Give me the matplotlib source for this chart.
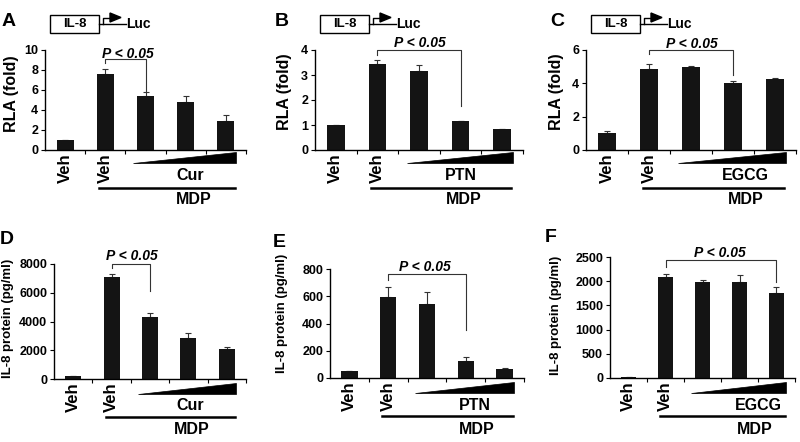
import matplotlib.pyplot as plt
import matplotlib.transforms as mtransforms
from matplotlib.patches import Polygon, Rectangle

plt.rcParams['font.family'] = ['Liberation Sans', 'DejaVu Sans']
plt.rcParams['font.weight'] = 'bold'

W, H = 800, 442

# luciferase reporter, RLA (fold)
rla_cur = [1.0, 7.6, 5.43, 4.83, 2.93]
rla_cur_err = [0.04, 0.5, 0.34, 0.57, 0.57]
rla_ptn = [1.0, 3.44, 3.18, 1.17, 0.83]
rla_ptn_err = [0.02, 0.16, 0.22, 0.0, 0.0]
rla_egcg = [1.0, 4.86, 4.96, 4.0, 4.26]
rla_egcg_err = [0.14, 0.28, 0.1, 0.16, 0.04]

# IL-8 protein (pg/ml)
il8_cur = [180, 7100, 4340, 2830, 2110]
il8_cur_err = [20, 180, 230, 390, 90]
il8_ptn = [48, 597, 541, 127, 64]
il8_ptn_err = [6, 73, 92, 30, 7]
il8_egcg = [27, 2093, 1977, 1990, 1763]
il8_egcg_err = [0, 49, 48, 138, 111]

# panel layout in pixels: left, right, y of top tick, y of zero
panels = [
    dict(letter='A', pos=(45, 246, 50, 150), vals=rla_cur, errs=rla_cur_err,
         yticks=[0, 2, 4, 6, 8, 10], ylabel='RLA (fold)', drug='Cur',
         br=(1, 2, 9.1, 8.7, 5.8), ptxt=(1.55, 9.25), drug_x=3.1, mdp_x=3.2,
         lab=(9, 21), ylab=(12, 94), header=True),
    dict(letter='B', pos=(315, 523, 50, 150), vals=rla_ptn, errs=rla_ptn_err,
         yticks=[0, 1, 2, 3, 4], ylabel='RLA (fold)', drug='PTN',
         br=(1, 3, 4.0, 3.8, 1.76), ptxt=(2.02, 4.12), drug_x=3.0, mdp_x=3.07,
         lab=(282, 21), ylab=(285, 92), header=True),
    dict(letter='C', pos=(586, 796, 50, 150), vals=rla_egcg, errs=rla_egcg_err,
         yticks=[0, 2, 4, 6], ylabel='RLA (fold)', drug='EGCG',
         br=(1, 3, 6.0, 5.75, 4.5), ptxt=(2.02, 6.12), drug_x=3.3, mdp_x=3.3,
         lab=(557, 21), ylab=(557, 92), header=True),
    dict(letter='D', pos=(54, 246, 264, 379), vals=il8_cur, errs=il8_cur_err,
         yticks=[0, 2000, 4000, 6000, 8000], ylabel='IL-8 protein (pg/ml)', drug='Cur',
         br=(1, 2, 8000, 7750, 6100), ptxt=(1.53, 8300), drug_x=3.04, mdp_x=3.09,
         lab=(7, 240), ylab=(8, 318), header=False),
    dict(letter='E', pos=(330, 524, 269, 378), vals=il8_ptn, errs=il8_ptn_err,
         yticks=[0, 200, 400, 600, 800], ylabel='IL-8 protein (pg/ml)', drug='PTN',
         br=(1, 3, 763, 719, 352), ptxt=(1.95, 782), drug_x=3.23, mdp_x=3.28,
         lab=(279, 242), ylab=(282, 313), header=False),
    dict(letter='F', pos=(610, 795, 257, 378), vals=il8_egcg, errs=il8_egcg_err,
         yticks=[0, 500, 1000, 1500, 2000, 2500], ylabel='IL-8 protein (pg/ml)', drug='EGCG',
         br=(1, 4, 2438, 2293, 1983), ptxt=(2.47, 2510), drug_x=3.52, mdp_x=3.41,
         lab=(551, 238), ylab=(556, 315), header=False),
]

fig = plt.figure(figsize=(W / 100, H / 100), dpi=100)


def fpx(x, y):
    return x / W, 1 - y / H


def below(ax, off):
    # x in data units, y = axis line shifted down by off pixels
    return ax.get_xaxis_transform() + mtransforms.ScaledTranslation(0, -off / 100, fig.dpi_scale_trans)


for p in panels:
    l, r, yt, yb = p['pos']
    hpx = yb - yt
    ax = fig.add_axes([l / W, 1 - yb / H, (r - l) / W, hpx / H])
    x = range(len(p['vals']))
    ax.bar(x, p['vals'], width=0.42, color='#141414', zorder=2)
    ax.errorbar(x, p['vals'], yerr=[[0] * len(p['errs']), p['errs']], fmt='none',
                ecolor='#333333', elinewidth=0.8, capsize=2.5, capthick=0.8, zorder=1)
    ax.set_xlim(-0.5, 4.5)
    ax.set_ylim(0, p['yticks'][-1])
    ax.set_yticks(p['yticks'])
    ax.set_xticks([0.5, 1.5, 2.5, 3.5, 4.5])
    ax.tick_params(axis='x', labelbottom=False, length=3, width=0.8, direction='out')
    ax.tick_params(axis='y', labelsize=9, length=3, width=0.8, pad=2, direction='out')
    for s in ['top', 'right']:
        ax.spines[s].set_visible(False)
    for s in ['left', 'bottom']:
        ax.spines[s].set_linewidth(1.0)

    # significance bracket
    x1, x2, ytop, yl, yr = p['br']
    ax.plot([x1, x1, x2, x2], [yl, ytop, ytop, yr], color='#333333', lw=0.8, clip_on=False)
    ax.text(p['ptxt'][0], p['ptxt'][1], 'P < 0.05', ha='center', va='baseline',
            fontsize=10, fontstyle='italic', fontweight='bold')

    # treatment annotations below the axis
    top_row = p['header']
    w_bot, w_top = (13, 2) if top_row else (15, 4)
    for xi in (0, 1):
        ax.text(xi, 0, 'Veh', rotation=90, ha='center', va='top', fontsize=12,
                transform=below(ax, 3))
    wedge = Polygon([(1.7, 0), (4.25, 0), (4.25, (w_bot - w_top) / hpx)], closed=True,
                    facecolor='black', edgecolor='black', lw=0.5,
                    transform=below(ax, w_bot), clip_on=False)
    ax.add_patch(wedge)
    ax.text(p['drug_x'], 0, p['drug'], ha='center', va='center', fontsize=11.5,
            transform=below(ax, 26 if top_row else 27))
    ax.plot([0.85, 4.22], [0, 0], color='black', lw=1.8, clip_on=False,
            transform=below(ax, 38))
    ax.text(p['mdp_x'], 0, 'MDP', ha='center', va='center', fontsize=11.5,
            transform=below(ax, 50 if top_row else 51))

    # panel letter and y label
    fig.text(*fpx(*p['lab']), p['letter'], ha='center', va='center', fontsize=14)
    ylab_size = 11.5 if top_row else 9.5
    fig.text(*fpx(*p['ylab']), p['ylabel'], rotation=90, ha='center', va='center',
             fontsize=ylab_size)

    # promoter construct diagram
    if top_row:
        bx = l + 5
        fig.patches.append(Rectangle(fpx(bx, 33), 49 / W, 18 / H, fill=False,
                                     edgecolor='black', lw=1.0, transform=fig.transFigure))
        fig.text(*fpx(bx + 24.5, 24), 'IL-8', ha='center', va='center', fontsize=9.5)
        fig.lines.append(plt.Line2D([(bx + 49) / W, (bx + 76) / W], [1 - 23.5 / H, 1 - 23.5 / H],
                                    color='black', lw=1.0, transform=fig.transFigure))
        fig.lines.append(plt.Line2D([(bx + 53) / W, (bx + 53) / W, (bx + 61) / W],
                                    [1 - 23.5 / H, 1 - 17.5 / H, 1 - 17.5 / H],
                                    color='black', lw=1.0, transform=fig.transFigure))
        fig.patches.append(Polygon([fpx(bx + 60, 13), fpx(bx + 60, 22), fpx(bx + 71, 17.5)],
                                   closed=True, color='black', transform=fig.transFigure))
        fig.text(*fpx(bx + 76, 24), 'Luc', ha='left', va='center', fontsize=10)

fig.savefig('out.png', dpi=100)
